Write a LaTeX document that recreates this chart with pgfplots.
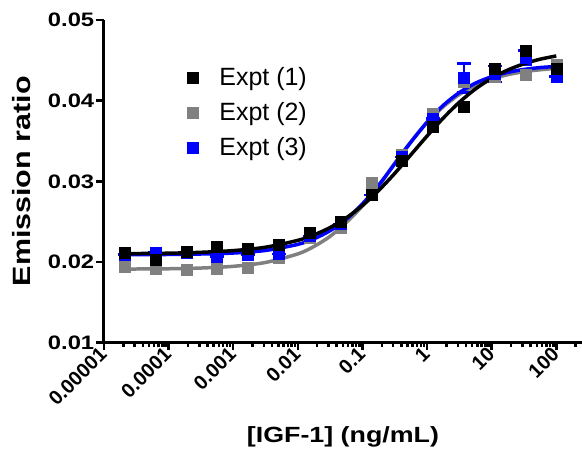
\documentclass[border=0pt]{standalone}
\usepackage{pgfplots}
\pgfplotsset{compat=1.18}
\usepackage{pgfplotstable}
\usepackage{fontspec}
\setmainfont{Liberation Sans}
\newfontfamily\widefont[FakeStretch=1.22]{Liberation Sans}
\definecolor{expgray}{RGB}{128,128,128}
\definecolor{expblue}{RGB}{0,0,255}

% measured points: x, Expt1, Expt2, Expt3, Expt3 error
\pgfplotstableread{
x         e1      e2      e3      e3err
2.091e-5  0.0211  0.0194  0.0209  0
6.272e-5  0.0203  0.0192  0.0212  0
1.882e-4  0.0213  0.0191  0.0211  0
5.645e-4  0.0219  0.0192  0.0207  0
1.694e-3  0.0216  0.0193  0.0209  0
5.081e-3  0.0221  0.0205  0.0210  0
0.01524   0.0236  0.0230  0.0232  0
0.04572   0.0250  0.0243  0.0247  0
0.1372    0.0283  0.0298  0.0283  0
0.4115    0.0325  0.0333  0.0330  0
1.235     0.0368  0.0384  0.0378  0
3.704     0.0393  0.0424  0.0428  0.0018
11.11     0.0439  0.0430  0.0433  0.0010
33.33     0.0462  0.0432  0.0453  0.0009
100       0.0440  0.0444  0.0430  0
}\pointdata

% fitted curves
\pgfplotstableread{
x         c1       c2       c3
1.778e-5  0.02103  0.01912  0.02090
1e-4      0.02109  0.01916  0.02093
3.162e-4  0.02120  0.01925  0.02099
1e-3      0.02141  0.01946  0.02111
3.162e-3  0.02183  0.01994  0.02143
0.01      0.02268  0.02100  0.02218
0.01778   0.02336  0.02192  0.02287
0.03162   0.02427  0.02318  0.02388
0.05623   0.02547  0.02490  0.02529
0.1       0.02700  0.02694  0.02720
0.1778    0.02885  0.02934  0.02951
0.3162    0.03098  0.03225  0.03216
0.5623    0.03329  0.03490  0.03485
1         0.03561  0.03727  0.03733
1.778     0.03783  0.03924  0.03941
3.162     0.03980  0.04077  0.04100
5.623     0.04145  0.04188  0.04217
10        0.04278  0.04268  0.04297
17.78     0.04380  0.04322  0.04351
31.62     0.04457  0.04359  0.04387
56.23     0.04514  0.04383  0.04410
100       0.04554  0.04400  0.04424
}\curvedata

\begin{document}
\begin{tikzpicture}
\useasboundingbox (-104pt,-108pt) rectangle (478.6pt,343pt);
\begin{axis}[
  name=ax, at={(0,0)}, anchor=south west,
  scale only axis, width=478.6pt, height=323pt,
  xmode=log, xmin=1e-5, xmax=250, ymin=0.01, ymax=0.05,
  clip=false, scaled y ticks=false,
  axis lines=left, axis line style={-, line width=3pt},
  every tick/.style={black, line width=2.5pt},
  tick align=outside, major tick length=7.5pt, minor tick length=4.5pt,
  xtick={1e-5,1e-4,1e-3,1e-2,1e-1,1,10,100},
  xticklabels={0.00001,0.0001,0.001,0.01,0.1,1,10,100},
  minor xtick={2e-5,3e-5,4e-5,5e-5,6e-5,7e-5,8e-5,9e-5,
    2e-4,3e-4,4e-4,5e-4,6e-4,7e-4,8e-4,9e-4,
    2e-3,3e-3,4e-3,5e-3,6e-3,7e-3,8e-3,9e-3,
    0.02,0.03,0.04,0.05,0.06,0.07,0.08,0.09,
    0.2,0.3,0.4,0.5,0.6,0.7,0.8,0.9,
    2,3,4,5,6,7,8,9,20,30,40,50,60,70,80,90,200},
  ytick={0.01,0.02,0.03,0.04,0.05},
  yticklabels={0.01,0.02,0.03,0.04,0.05},
  /pgf/number format/assume math mode=true,
  xticklabel style={font=\bfseries\fontsize{20}{22}\selectfont, rotate=45, anchor=east, inner sep=1pt},
  yticklabel style={font=\widefont\bfseries\fontsize{19.5}{22}\selectfont, inner sep=2pt},
  xlabel={{[IGF-1] (ng/mL)}},
  ylabel={Emission ratio},
  xlabel style={font=\widefont\bfseries\fontsize{22}{26}\selectfont, yshift=-15pt},
  ylabel style={font=\widefont\bfseries\fontsize{25}{30}\selectfont, yshift=12pt},
  legend style={at={(0.168,0.865)}, anchor=north west, draw=none, fill=none,
    font=\fontsize{25}{30}\selectfont, row sep=11.5pt},
  legend cell align=left,
]
\addlegendimage{only marks, black, mark=square*, mark size=5.5pt}
\addlegendentry{\hspace{19pt}Expt (1)}
\addlegendimage{only marks, expgray, mark=square*, mark size=5.5pt}
\addlegendentry{\hspace{19pt}Expt (2)}
\addlegendimage{only marks, expblue, mark=square*, mark size=5.5pt}
\addlegendentry{\hspace{19pt}Expt (3)}

\addplot[forget plot, only marks, expgray, mark=square*, mark size=5.5pt, mark options={line width=0.4pt}] table[x=x, y=e2] {\pointdata};
\addplot[forget plot, expgray, line width=3.5pt, smooth] table[x=x, y=c2] {\curvedata};
\addplot[forget plot, only marks, expblue, mark=square*, mark size=5.5pt, mark options={line width=0.4pt},
  error bars/.cd, y dir=both, y explicit, error bar style={line width=2pt, expblue},
  error mark options={rotate=90, mark size=7pt, line width=2.5pt, expblue}]
  table[x=x, y=e3, y error=e3err] {\pointdata};
\addplot[forget plot, expblue, line width=3.5pt, smooth] table[x=x, y=c3] {\curvedata};
\addplot[forget plot, only marks, black, mark=square*, mark size=5.5pt, mark options={line width=0.4pt}] table[x=x, y=e1] {\pointdata};
\addplot[forget plot, black, line width=3.5pt, smooth] table[x=x, y=c1] {\curvedata};
\end{axis}
\end{tikzpicture}
\end{document}
